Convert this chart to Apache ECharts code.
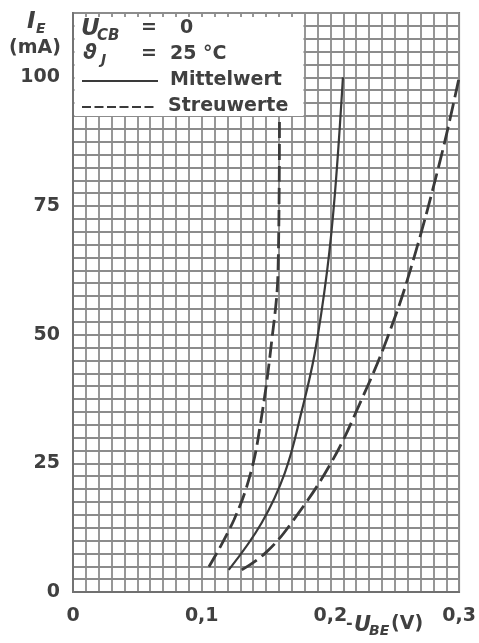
<!DOCTYPE html>
<html>
<head>
<meta charset="utf-8">
<script src="https://cdn.jsdelivr.net/npm/echarts@6/dist/echarts.min.js"></script>
<style>
html,body{margin:0;padding:0;background:#ffffff;}
#chart{width:479px;height:643px;}
</style>
</head>
<body>
<div id="chart"></div>
<script>
// Mittelwert (solid)
const mittelU = [0.121, 0.1465, 0.1645, 0.1775, 0.1878, 0.1975, 0.2035, 0.2097];
const mittelI = [4.3, 13.4, 23.1, 35, 46.4, 62.6, 77.5, 100];
// Streuwerte, lower bound (left dashed)
const streuLowU = [0.1056, 0.125, 0.138, 0.1457, 0.1542, 0.1593, 0.1604];
const streuLowI = [4.9, 14.0, 23.1, 32.8, 48.4, 62.6, 91.7];
// Streuwerte, upper bound (right dashed)
const streuHighU = [0.1311, 0.1496, 0.1696, 0.2005, 0.2251, 0.2444, 0.2621, 0.2853, 0.3];
const streuHighI = [4.3, 7.6, 13.4, 25.1, 37.9, 49.5, 62.6, 83.9, 100];

const xTickValues = [0, 0.1, 0.2, 0.3];
const xTickLabels = ['0', '0,1', '0,2', '0,3'];
const yTickValues = [0, 25, 50, 75, 100];
const yTickLabels = ['0', '25', '50', '75', '100'];

const pairs = (xs, ys) => xs.map((x, i) => [x, ys[i]]);

const INK = '#3a3a3a';
const TXT = '#404040';
const FONT = 'bold 19px "DejaVu Sans"';
const GRIDC = '#8c8c8c';

const chart = echarts.init(document.getElementById('chart'), null, {renderer: 'canvas'});

function txt(x, y, text, font) {
  return {
    type: 'text', x: x, y: y, z: 20,
    style: {text: text, font: font || FONT, fill: TXT, align: 'left', verticalAlign: 'top'}
  };
}

const option = {
  backgroundColor: '#ffffff',
  animation: false,
  grid: {left: 73, right: 17, top: 13, bottom: 51, show: true, borderColor: '#707070', borderWidth: 1.8, backgroundColor: 'transparent'},
  xAxis: {
    type: 'value', min: 0, max: 0.3, interval: 0.01,
    axisLine: {show: true, lineStyle: {color: '#707070', width: 1.8}},
    axisTick: {show: false},
    splitLine: {show: true, lineStyle: {color: GRIDC, width: 1.8}},
    axisLabel: {
      margin: 15, color: TXT, fontFamily: 'DejaVu Sans', fontWeight: 'bold', fontSize: 19,
      formatter: function (v) {
        const k = Math.round(v * 100);
        for (let i = 0; i < xTickValues.length; i++) {
          if (Math.round(xTickValues[i] * 100) === k) return xTickLabels[i];
        }
        return '';
      }
    }
  },
  yAxis: {
    type: 'value', min: 0, max: 112.5, interval: 2.5,
    axisLine: {show: true, lineStyle: {color: '#707070', width: 1.8}},
    axisTick: {show: false},
    splitLine: {show: true, lineStyle: {color: GRIDC, width: 1.8}},
    axisLabel: {
      margin: 13, color: TXT, fontFamily: 'DejaVu Sans', fontWeight: 'bold', fontSize: 19,
      formatter: function (v) {
        const k = Math.round(v * 10);
        for (let i = 0; i < yTickValues.length; i++) {
          if (Math.round(yTickValues[i] * 10) === k) return yTickLabels[i];
        }
        return '';
      }
    }
  },
  series: [
    {name: 'Mittelwert', type: 'line', data: pairs(mittelU, mittelI), smooth: 0.4, showSymbol: false, z: 5,
     lineStyle: {color: INK, width: 2.2, type: 'solid'}},
    {name: 'Streuwerte', type: 'line', data: pairs(streuLowU, streuLowI), smooth: 0.4, showSymbol: false, z: 5,
     lineStyle: {color: INK, width: 2.8, type: [16, 6]}},
    {name: 'Streuwerte', type: 'line', data: pairs(streuHighU, streuHighI), smooth: 0.4, showSymbol: false, z: 5,
     lineStyle: {color: INK, width: 2.8, type: [18, 6]}}
  ],
  graphic: [
    {type: 'rect', z: 10, shape: {x: 74.5, y: 17, width: 229, height: 99}, style: {fill: '#ffffff'}},
    // legend box contents
    txt(81, 18, 'U', 'italic bold 23px "DejaVu Sans"'),
    txt(97, 29, 'CB', 'italic bold 15px "DejaVu Sans"'),
    txt(141, 19, '=', FONT),
    txt(180, 19, '0', FONT),
    txt(83, 43, 'ϑ', 'italic bold 21px "DejaVu Sans"'),
    txt(101, 53, 'J', 'italic bold 14px "DejaVu Sans"'),
    txt(141, 45, '=', FONT),
    txt(170, 45, '25 °C', FONT),
    {type: 'line', z: 20, shape: {x1: 82, y1: 81, x2: 158, y2: 81}, style: {stroke: INK, lineWidth: 2}},
    txt(170, 71, 'Mittelwert', FONT),
    {type: 'line', z: 20, shape: {x1: 82, y1: 107, x2: 154, y2: 107}, style: {stroke: INK, lineWidth: 2, lineDash: [9, 3.5]}},
    txt(168, 97, 'Streuwerte', FONT),
    // y-axis title
    txt(27, 11, 'I', 'italic bold 23px "DejaVu Sans"'),
    txt(36, 22, 'E', 'italic bold 14px "DejaVu Sans"'),
    txt(9, 39, '(mA)', FONT),
    // x-axis title
    txt(346, 616, '-', 'bold 16px "DejaVu Sans"'),
    txt(354, 615, 'U', 'italic bold 21px "DejaVu Sans"'),
    txt(369, 624, 'BE', 'italic bold 14px "DejaVu Sans"'),
    txt(391, 615, '(V)', FONT)
  ]
};
chart.setOption(option);
</script>
</body>
</html>
